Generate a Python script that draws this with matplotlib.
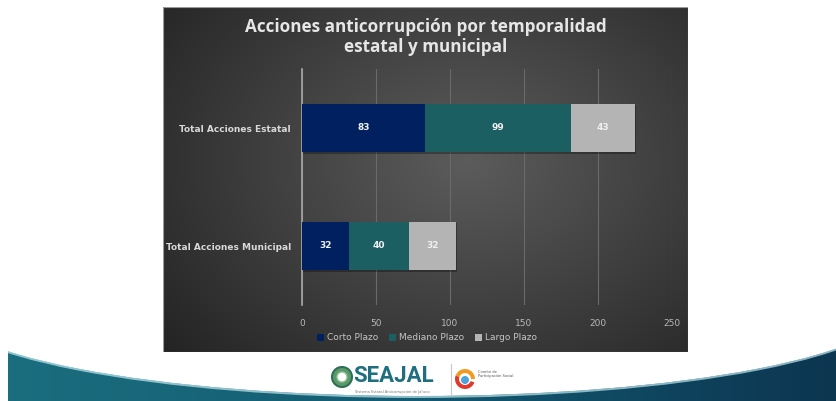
import numpy as np
import matplotlib.pyplot as plt
from matplotlib.patches import Ellipse, Circle, Rectangle, Wedge
from matplotlib.colors import LinearSegmentedColormap

# Datos del gráfico
categorias = ['Total Acciones Municipal', 'Total Acciones Estatal']
corto_plazo = [32, 83]
mediano_plazo = [40, 99]
largo_plazo = [32, 43]
series = ['Corto Plazo', 'Mediano Plazo', 'Largo Plazo']
colores = ['#002060', '#1b5f63', '#b4b4b4']
ticks_x = [0, 50, 100, 150, 200, 250]

W, H = 836, 401
fig = plt.figure(figsize=(W / 100, H / 100), dpi=100)
fig.patch.set_facecolor('white')


def px_axes(x0, y0, x1, y1, **kw):
    # caja en pixeles (origen arriba a la izquierda)
    return fig.add_axes([x0 / W, 1 - y1 / H, (x1 - x0) / W, (y1 - y0) / H], **kw)


# ---- fondo de la diapositiva: banda inferior con curva ----
bg = px_axes(0, 0, W, H)
bg.set_xlim(0, W)
bg.set_ylim(H, 0)
bg.axis('off')
grad = np.linspace(0, 1, 256).reshape(1, -1)
cmap_banda = LinearSegmentedColormap.from_list('banda', ['#1a6e7e', '#145a72', '#0c3550'])
bg.imshow(grad, extent=(8, W, H, 346), aspect='auto', cmap=cmap_banda, zorder=0)
bg.add_patch(Ellipse((418, 303), 960, 186, facecolor='white', edgecolor='none', zorder=1))
borde = Ellipse((418, 303), 962, 188, facecolor='none', edgecolor='#bfe9f0', lw=1.4, alpha=0.7, zorder=1)
bg.add_patch(borde)
clip = Rectangle((8, 346), W, 60, transform=bg.transData)
borde.set_clip_path(clip)

# logo SEAJAL (aproximado)
bg.add_patch(Circle((342, 377), 10, facecolor='#5a9a6a', edgecolor='#2f6f55', lw=1.5, zorder=2))
bg.add_patch(Circle((342, 377), 5, facecolor='white', edgecolor='#8fc49a', lw=1, zorder=3))
bg.text(353, 376, 'SEAJAL', fontsize=16, fontweight='bold', color='#1f6f80',
        family='Roboto', va='center', ha='left', zorder=3)
bg.text(355, 392, 'Sistema Estatal Anticorrupción de Jalisco', fontsize=2.6, color='#777777',
        va='center', ha='left', zorder=3)
bg.plot([451, 451], [364, 395], color='#c8c8c8', lw=0.8, zorder=3)
bg.add_patch(Wedge((465, 379), 10, 200, 360, width=4, facecolor='#f29a1f', zorder=3))
bg.add_patch(Wedge((465, 379), 10, 20, 200, width=4, facecolor='#e0392b', zorder=3))
bg.add_patch(Circle((465, 380), 4, facecolor='#4da3d6', zorder=3))
bg.text(478, 374, 'Comité de\nParticipación Social', fontsize=2.6, color='#555555',
        va='center', ha='left', linespacing=1.3, zorder=3)

# ---- panel oscuro con degradado radial ----
x0p, y0p, x1p, y1p = 163, 7, 688, 352
panel = px_axes(x0p, y0p, x1p, y1p)
panel.axis('off')
yy, xx = np.mgrid[0:1:300j, 0:1:500j]
r = np.sqrt(((xx - 0.58) / 0.75) ** 2 + ((yy - 0.45) / 0.85) ** 2)
gris = np.clip(0.36 - 0.22 * r, 0.12, 0.36)
panel.imshow(np.dstack([gris, gris, gris]), extent=(0, 1, 0, 1), aspect='auto')
panel.set_xlim(0, 1)
panel.set_ylim(0, 1)
panel.add_patch(Rectangle((0, 0), 1, 1, transform=panel.transAxes, fill=False,
                          edgecolor='#9a9a9a', lw=0.8))

fig.text((x0p + x1p) / 2 / W, 1 - 37 / H, 'Acciones anticorrupción por temporalidad\nestatal y municipal',
         ha='center', va='center', fontsize=12.3, fontweight='bold', family='Open Sans',
         color='#e6e6e6', linespacing=1.15)

# ---- barras apiladas ----
ax = px_axes(302, 69, 672, 305)
ax.patch.set_alpha(0)
y = np.arange(len(categorias))
izq = np.zeros(len(categorias))
for nombre, vals, col in zip(series, [corto_plazo, mediano_plazo, largo_plazo], colores):
    ax.barh(y - 0.012, vals, left=izq + 0.6, height=0.41, color='black', alpha=0.3, zorder=2)
    barras = ax.barh(y, vals, left=izq, height=0.41, color=col, label=nombre, zorder=3)
    for b, v in zip(barras, vals):
        ax.text(b.get_x() + b.get_width() / 2, b.get_y() + b.get_height() / 2, str(v),
                ha='center', va='center', fontsize=6.5, fontweight='bold',
                color='#f0f0f0', zorder=4)
    izq += np.array(vals)

ax.set_xlim(0, 250)
ax.set_ylim(-0.5, 1.5)
ax.set_xticks(ticks_x)
ax.set_yticks(y)
ax.set_yticklabels(categorias, fontsize=6.5, fontweight='bold', color='#d8d8d8')
ax.tick_params(axis='x', colors='#b8b8b8', labelsize=6.5, length=0, pad=10)
ax.tick_params(axis='y', length=0, pad=8)
ax.grid(axis='x', color='#6a6a6a', lw=0.8, zorder=0)
for s in ['top', 'right', 'bottom']:
    ax.spines[s].set_visible(False)
ax.spines['left'].set_color('#a8a8a8')
ax.spines['left'].set_linewidth(1.2)

ley = fig.legend(loc='center', bbox_to_anchor=(427 / W, 1 - 338 / H), ncol=3, frameon=False,
                 fontsize=6.5, labelcolor='#c4c4c4', handlelength=0.8, handleheight=0.8,
                 handletextpad=0.3, columnspacing=1.2)

fig.savefig('out.png', dpi=100, facecolor='white')
